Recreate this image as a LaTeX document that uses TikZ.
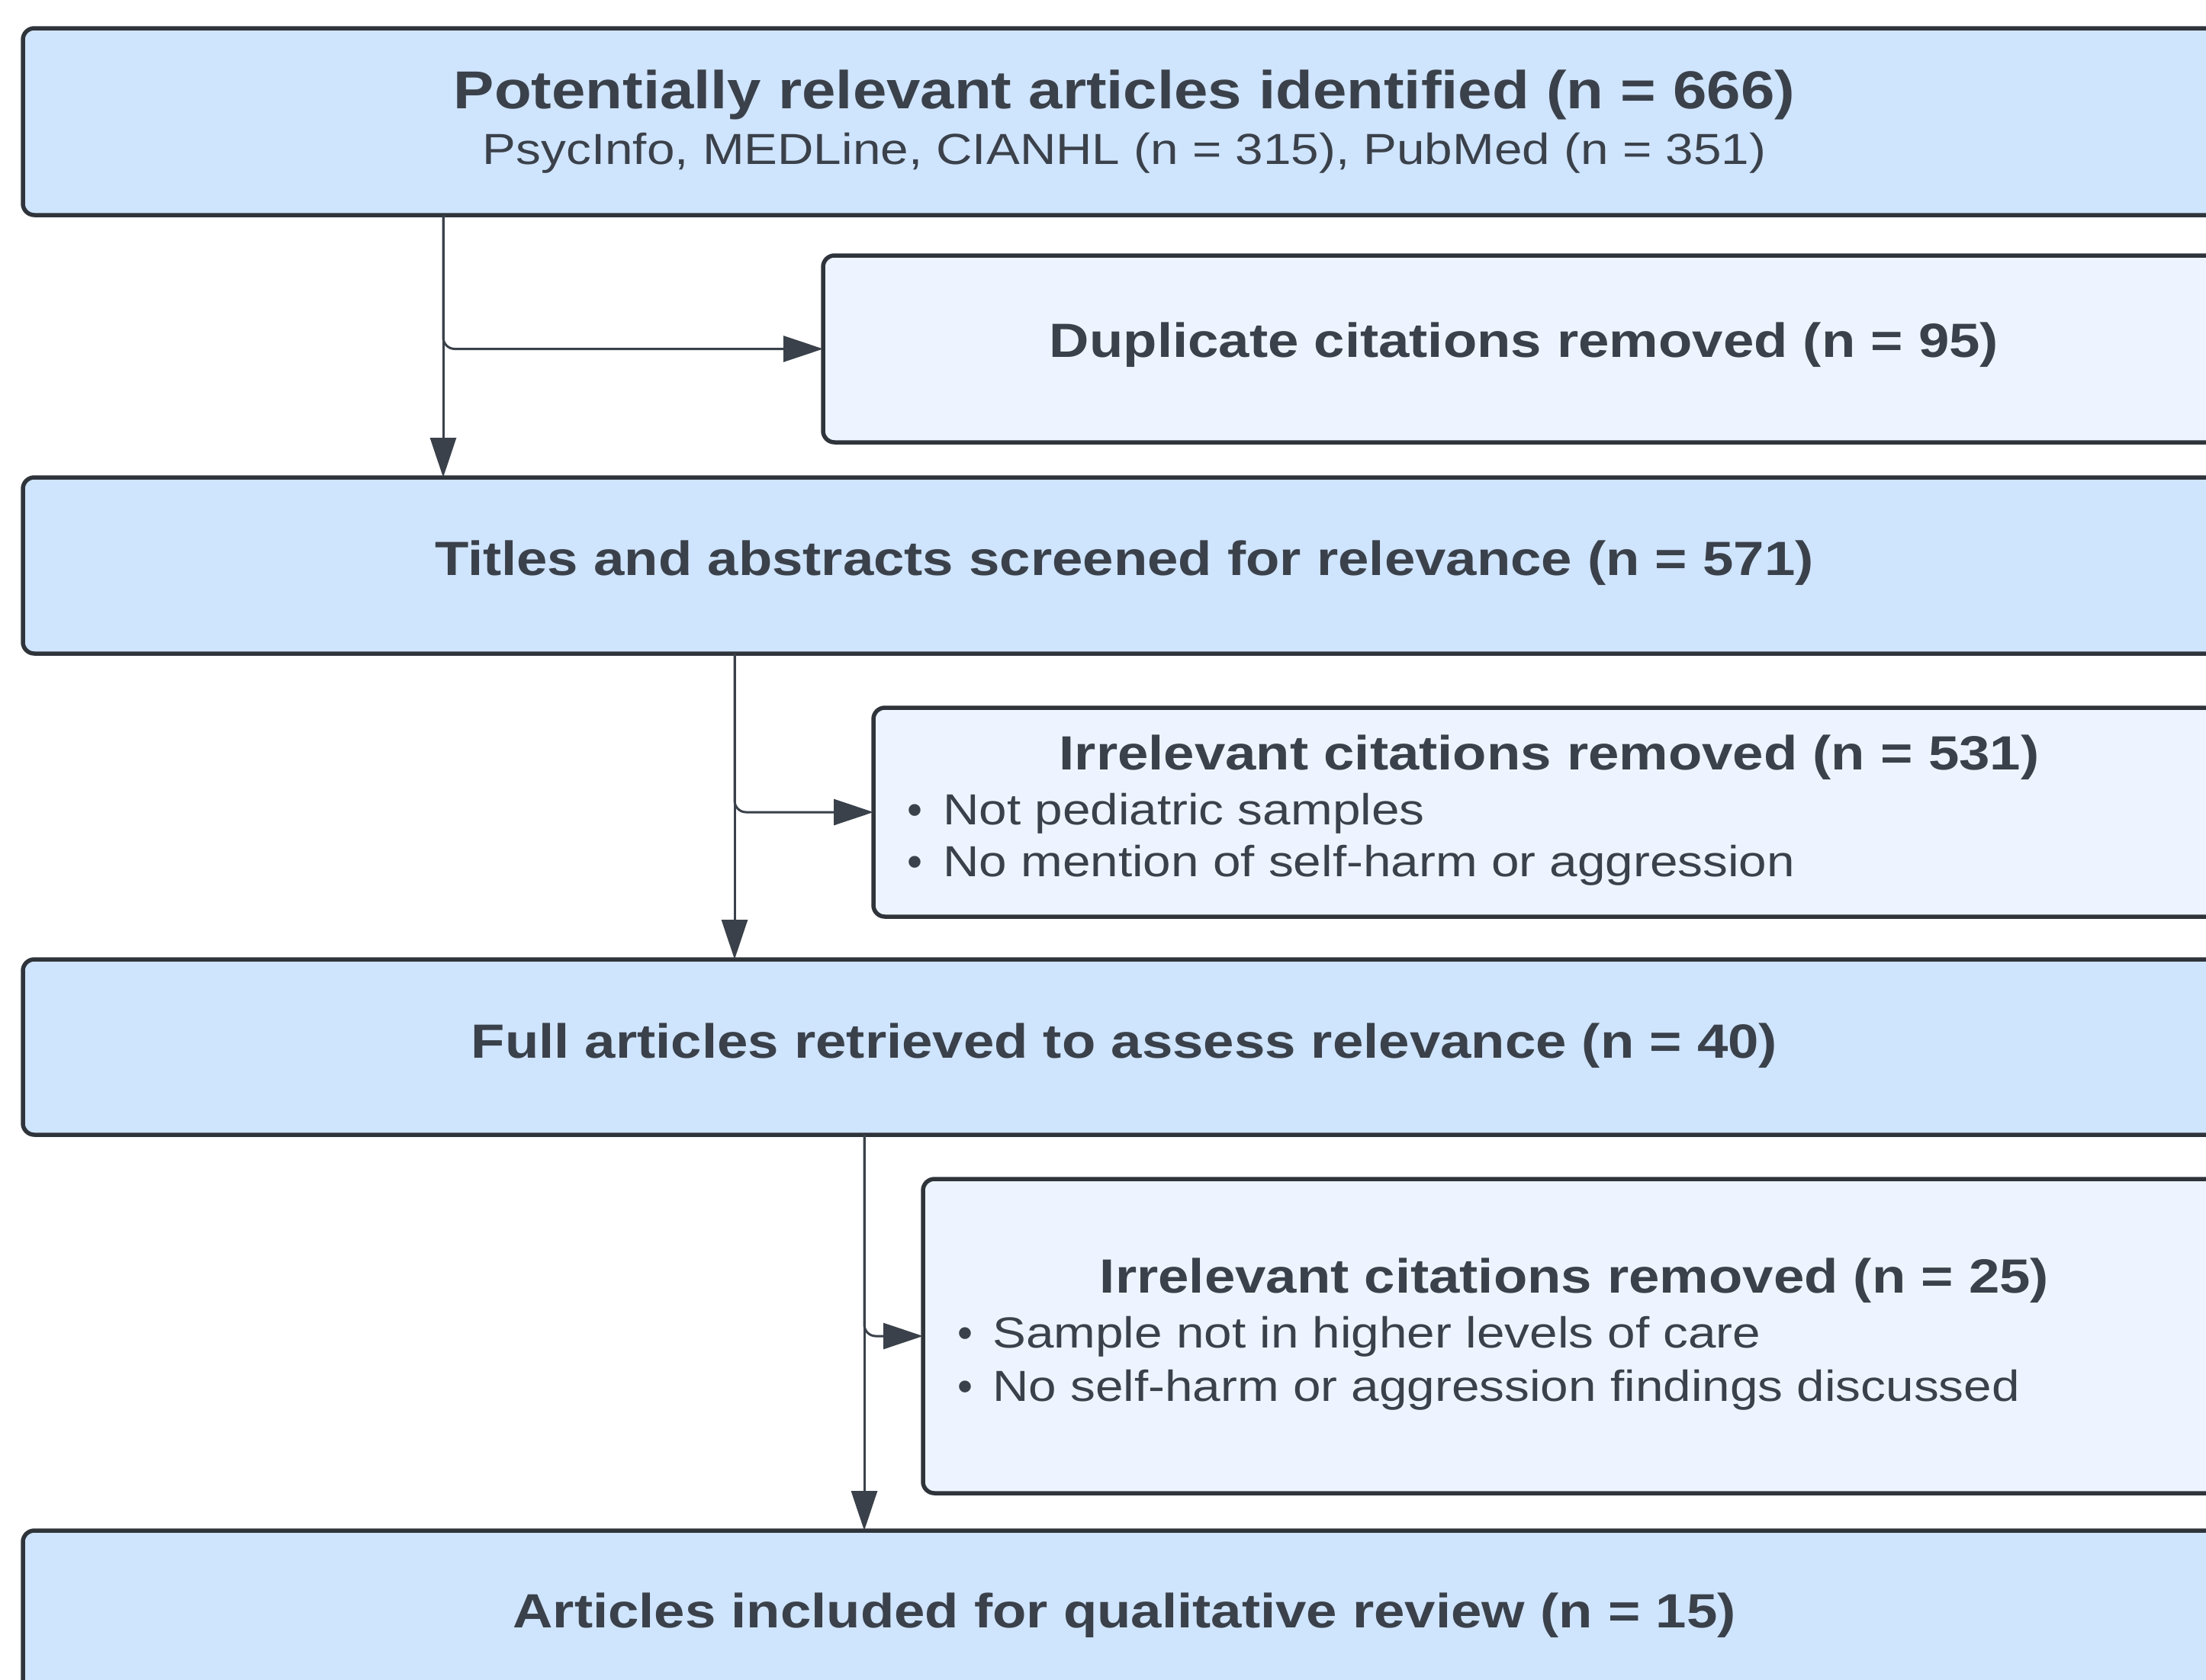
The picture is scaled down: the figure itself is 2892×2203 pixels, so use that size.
\documentclass[tikz,border=0pt]{standalone}
\usepackage{fontspec}
\setmainfont{Liberation Sans}
\usetikzlibrary{arrows.meta}
\definecolor{mainfill}{HTML}{CFE4FD}
\definecolor{subfill}{HTML}{EDF4FF}
\definecolor{edge}{HTML}{2F343B}
\definecolor{ink}{HTML}{3A414A}
\newcommand\wide[1]{\scalebox{1.152}[1]{#1}}
\newcommand\widetitle[1]{\scalebox{1.14}[1]{#1}}
\begin{document}
\begin{tikzpicture}[x=1pt,y=-1pt,
  mainbox/.style={draw=edge, line width=5.5pt, fill=mainfill, rounded corners=15pt, outer sep=0pt, inner sep=0pt, anchor=north west},
  subbox/.style={mainbox, fill=subfill},
  head/.style={text=ink, font=\fontsize{63}{75}\selectfont\bfseries, anchor=base, inner sep=0pt},
  bighead/.style={head, font=\fontsize{70}{84}\selectfont\bfseries},
  plain/.style={text=ink, font=\fontsize{57}{68}\selectfont, inner sep=0pt, anchor=base},
  bulltext/.style={plain, anchor=base west},
  conn/.style={draw=ink, line width=3pt, -{Triangle[length=52pt,width=34pt]}},
]
\path[use as bounding box, clip] (0,0) rectangle (2892,2203);
\fill[white] (0,0) rectangle (2892,2203);

% boxes
\node[mainbox, minimum width=2887pt, minimum height=245pt] (b1) at (30,37) {};
\node[subbox, minimum width=1838pt, minimum height=245pt] (b2) at (1079,335) {};
\node[mainbox, minimum width=2887pt, minimum height=231pt] (b3) at (30,626) {};
\node[subbox, minimum width=1772pt, minimum height=274pt] (b4) at (1145,928) {};
\node[mainbox, minimum width=2887pt, minimum height=230pt] (b5) at (30,1258) {};
\node[subbox, minimum width=1707pt, minimum height=412pt] (b6) at (1210,1546) {};
\node[mainbox, minimum width=2887pt, minimum height=230pt] (b7) at (30,2007) {};

% connector columns
\coordinate (v1) at (581,0);
\coordinate (v2) at (963,0);
\coordinate (v3) at (1133,0);

\draw[conn] (b1.south -| v1) -- (b3.north -| v1);
\draw[conn, rounded corners=15pt] (b1.south -| v1) |- (b2.west);
\draw[conn] (b3.south -| v2) -- (b5.north -| v2);
\draw[conn, rounded corners=15pt] (b3.south -| v2) |- (b4.west);
\draw[conn] (b5.south -| v3) -- (b7.north -| v3);
\draw[conn, rounded corners=15pt] (b5.south -| v3) |- (b6.west);

% texts
\node[bighead] (t1) at (1474,142) {\widetitle{Potentially relevant articles identified (n = 666)}};
\node[plain] (t1s) at (1474,215) {\wide{PsycInfo, MEDLine, CIANHL (n = 315), PubMed (n = 351)}};
\node[head] (t2) at (1998,468) {\wide{Duplicate citations removed (n = 95)}};
\node[head] (t3) at (1474,754) {\wide{Titles and abstracts screened for relevance (n = 571)}};
\node[head] (t4) at (2031,1009) {\wide{Irrelevant citations removed (n = 531)}};
\node[plain] (d4a) at (1199,1081) {•};
\node[bulltext] (t4a) at (1236,1081) {\wide{Not pediatric samples}};
\node[plain] (d4b) at (1199,1149) {•};
\node[bulltext] (t4b) at (1236,1149) {\wide{No mention of self-harm or aggression}};
\node[head] (t5) at (1474,1387) {\wide{Full articles retrieved to assess relevance (n = 40)}};
\node[head] (t6) at (2064,1695) {\wide{Irrelevant citations removed (n = 25)}};
\node[plain] (d6a) at (1265,1767) {•};
\node[bulltext] (t6a) at (1301,1767) {\wide{Sample not in higher levels of care}};
\node[plain] (d6b) at (1265,1837) {•};
\node[bulltext] (t6b) at (1301,1837) {\wide{No self-harm or aggression findings discussed}};
\node[head] (t7) at (1474,2134) {\wide{Articles included for qualitative review (n = 15)}};
\end{tikzpicture}
\end{document}
